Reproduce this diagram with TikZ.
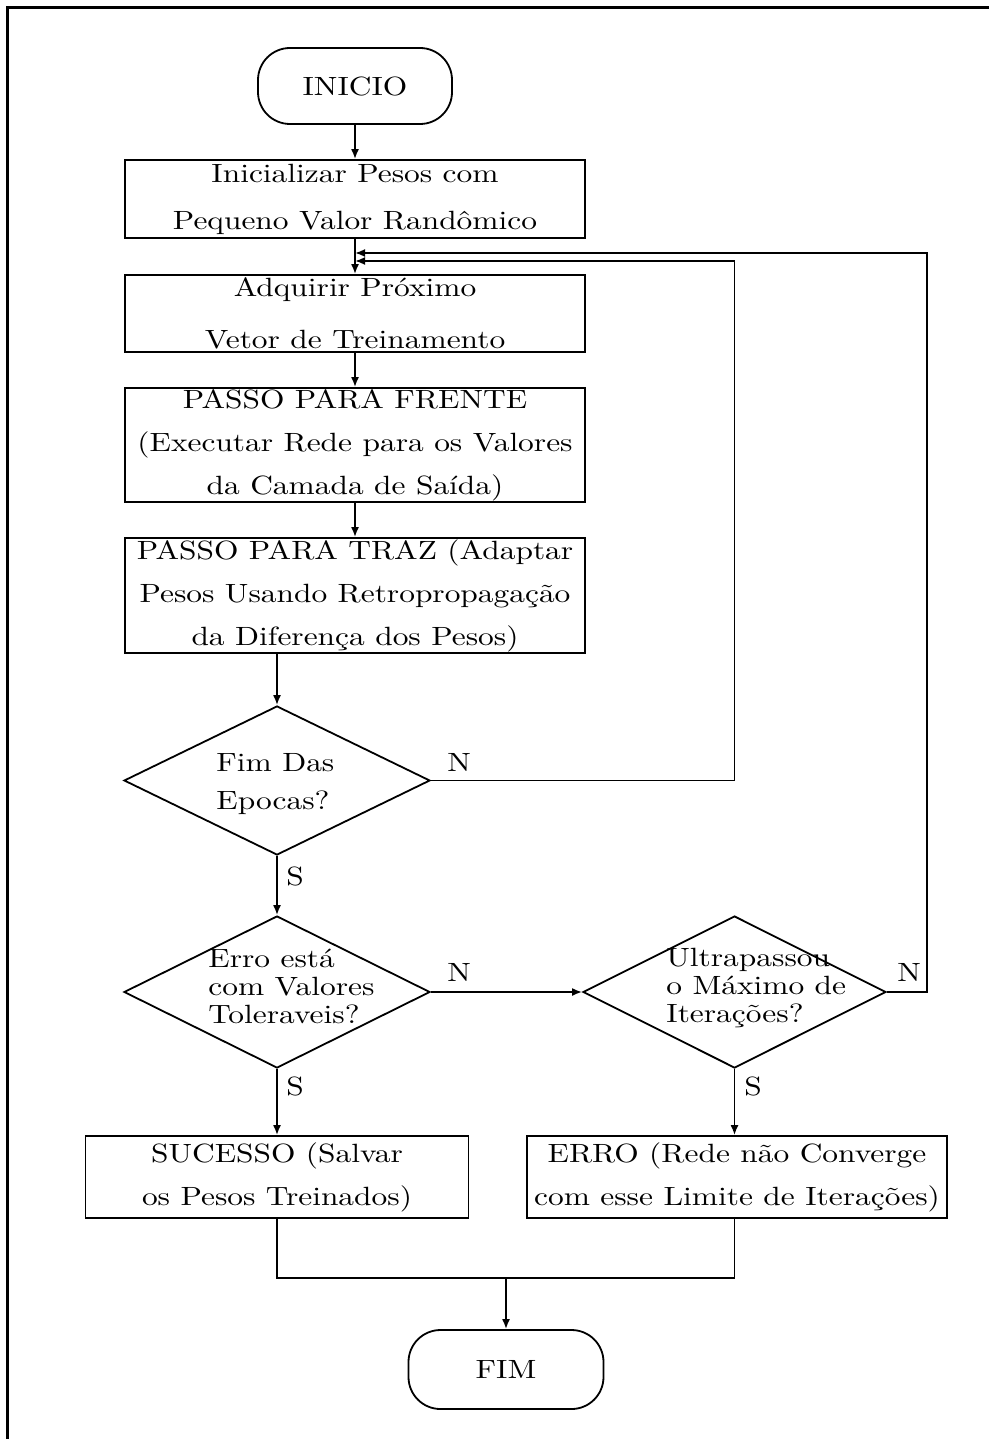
\documentclass[tikz,border=0pt]{standalone}
\usepackage{fontspec}
\setmainfont{lmroman10-regular.otf}[FakeStretch=1.19]
\usetikzlibrary{shapes.geometric,arrows.meta,calc}
\begin{document}
\begin{tikzpicture}[x=0.5pt,y=-0.5pt]
\tikzset{
  every node/.style={inner sep=0pt},
  ln/.style={line width=0.9pt},
  boxnode/.style={draw, ln, rectangle, align=center, font=\fontsize{13.2}{23.5}\selectfont},
  termnode/.style={draw, ln, rectangle, rounded corners=16pt, font=\fontsize{13.2}{16}\selectfont},
  decnode/.style={draw, ln, diamond},
  dtext/.style={align=left, anchor=west},
  yn/.style={font=\fontsize{13.2}{16}\selectfont},
  arr/.style={ln, -{Latex[length=5pt,width=4pt]}},
}
\useasboundingbox (0,0) rectangle (989,1439);
% frame
\draw[line width=1.5pt] (7,1439) -- (7,8) -- (989,8);

% nodes
\node[termnode, minimum width=97pt, minimum height=38pt] (ini) at (355,86) {INICIO};
\node[boxnode, minimum width=230pt, minimum height=39pt] (b1) at (355,199) {Inicializar Pesos com\\Pequeno Valor Randômico};
\node[boxnode, minimum width=230pt, minimum height=38.5pt, font=\fontsize{13.2}{26}\selectfont] (b2) at (355,313.5) {Adquirir Próximo\\Vetor de Treinamento};
\node[boxnode, minimum width=230pt, minimum height=57pt, font=\fontsize{13.2}{21.5}\selectfont] (b3) at (355,445) {PASSO PARA FRENTE\\(Executar Rede para os Valores\\da Camada de Saída)};
\node[boxnode, minimum width=230pt, minimum height=57.5pt, font=\fontsize{13.2}{21.5}\selectfont] (b4) at (355,595.5) {PASSO PARA TRAZ (Adaptar\\Pesos Usando Retropropagação\\da Diferença dos Pesos)};

\node[decnode, minimum width=153pt, minimum height=74.5pt] (d1) at (277,780.5) {};
\node[dtext, font=\fontsize{13.2}{19}\selectfont] (t1) at (216,784) {Fim Das\\Epocas?};
\node[decnode, minimum width=153pt, minimum height=76pt] (d2) at (277,992) {};
\node[dtext, font=\fontsize{13.2}{14}\selectfont] (t2) at (208,986) {Erro está\\com Valores\\Toleraveis?};
\node[decnode, minimum width=151.5pt, minimum height=76pt] (d3) at (734.5,992) {};
\node[dtext, font=\fontsize{13.2}{14}\selectfont] (t3) at (666,988) {Ultrapassou\\o Máximo de\\Iterações?};

\node[boxnode, minimum width=191.5pt, minimum height=41pt, font=\fontsize{13.2}{21.5}\selectfont] (b5) at (277,1177) {SUCESSO (Salvar\\os Pesos Treinados)};
\node[boxnode, minimum width=210pt, minimum height=41pt, font=\fontsize{13.2}{21.5}\selectfont] (b6) at (737,1177) {ERRO (Rede não Converge\\com esse Limite de Iterações)};

\node[termnode, minimum width=97.5pt, minimum height=39.5pt] (fim) at (506,1369.5) {FIM};

% labels
\node[yn, anchor=base west] (n1) at (447,771) {N};
\node[yn, anchor=base west] (n2) at (447,981) {N};
\node[yn, anchor=base west] (n3) at (897,981) {N};
\node[yn, anchor=base west] (s1) at (286,885) {S};
\node[yn, anchor=base west] (s2) at (286,1095) {S};
\node[yn, anchor=base west] (s3) at (744,1095) {S};

% coordinates
\coordinate (in1) at (355,261);
\coordinate (in2) at (355,253);
\coordinate (m) at (506,1278);

% connectors
\draw[arr] (ini.south) -- (ini.south |- b1.north);
\draw[arr] (b1) -- (b2);
\draw[arr] (b2) -- (b3);
\draw[arr] (b3) -- (b4);
\draw[arr] (b4.south -| d1.north) -- (d1.north);
\draw[arr] (d1) -- (d2);
\draw[arr] (d1.east) -| (d3.north |- in1) -- (in1);
\draw[arr] (d2) -- (d3);
\draw[arr] (d3.east) -- ++(40,0) |- (in2);
\draw[arr] (d2) -- (b5);
\draw[arr] (d3.south) -- (d3.south |- b6.north);
\draw[ln] (b5.south) |- (m) -| (b6.south -| d3.south);
\draw[arr] (m) -- (fim);
\end{tikzpicture}
\end{document}
